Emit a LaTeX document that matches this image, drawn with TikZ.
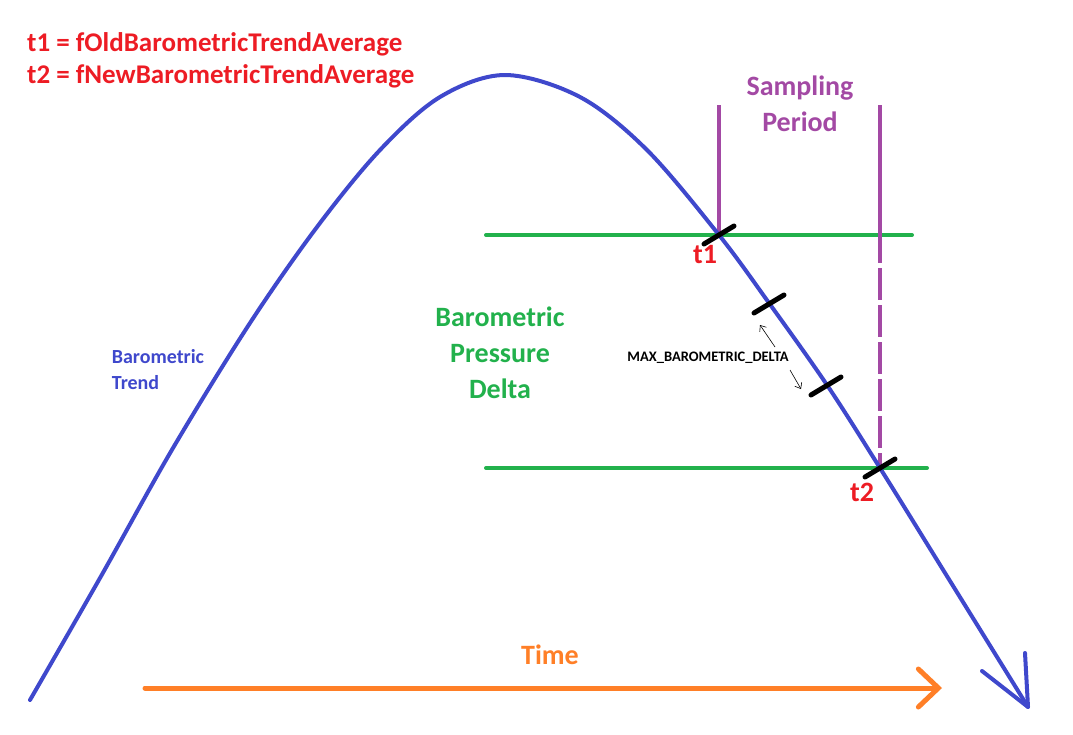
\documentclass[tikz,border=0pt]{standalone}
\usepackage{fontspec}
\setmainfont{Carlito}
\usepackage{xcolor}
\usepackage{tikz}
\usetikzlibrary{positioning, arrows.meta}

\definecolor{paintblue}{HTML}{3F48CC}
\definecolor{paintred}{HTML}{ED1C24}
\definecolor{paintgreen}{HTML}{22B14C}
\definecolor{paintpurple}{HTML}{A349A4}
\definecolor{paintorange}{HTML}{FF7F27}

\begin{document}
\begin{tikzpicture}[
        x=1pt, y=-1pt,
        trend/.style={draw=paintblue, line width=4pt, line cap=round, line join=round},
        level/.style={draw=paintgreen, line width=4pt, line cap=round},
        period/.style={draw=paintpurple, line width=4pt},
        tickmark/.style={draw=black, line width=5pt, line cap=round},
        timeline/.style={draw=paintorange, line width=5pt, line cap=round, -{Straight Barb[length=20pt, width=38pt, line cap=round]}},
        dimarrow/.style={draw=black, line width=0.6pt, -{Straight Barb[length=5pt, width=8pt]}},
        bigtext/.style={font=\bfseries\fontsize{28}{36}\selectfont, align=center, inner sep=0pt},
    ]
        \useasboundingbox (0,0) rectangle (1073,734);

        % Legend
        \node[bigtext, text=paintred, anchor=west, font=\bfseries\fontsize{27}{32}\selectfont] (def1) at (27,44) {t1 = fOldBarometricTrendAverage};
        \node[bigtext, text=paintred, anchor=west, font=\bfseries\fontsize{27}{32}\selectfont] (def2) at (27,76) {t2 = fNewBarometricTrendAverage};

        % Pressure levels
        \coordinate (t1) at (719,235);
        \coordinate (t2) at (880,468);
        \draw[level] (486,235) -- (912,235);
        \draw[level] (486,468) -- (927,468);

        % Sampling period
        \coordinate (top1) at (719,105);
        \coordinate (top2) at (880,105);
        \coordinate (dashstart) at (880,268);
        \draw[period] (top1) -- (t1);
        \draw[period] (top2) -- (880,263);
        \draw[period, dash pattern=on 32pt off 5pt] (dashstart) -- (t2);
        \node[bigtext, text=paintpurple] (period) at (800,104) {Sampling\\Period};

        % Barometric trend curve
        \coordinate (tip) at (1028,707);
        \draw[trend] plot[smooth, tension=0.55] coordinates {
            (30,700) (100,578) (173,448) (250,323) (317,227) (380,150) (440,97)
            (505,75) (580,97) (647,150) (719,235) (769,303)
            (827,385) (880,468) (950,581) (1028,707)};
        \draw[trend] (982,671) -- (tip) -- (1025,653);
        \node[bigtext, text=paintblue, align=left, font=\bfseries\fontsize{20}{26}\selectfont] (trendlbl) at (158,370) {Barometric\\Trend};

        % Ticks
        \coordinate (m1) at (769,304);
        \coordinate (m2) at (826,386);
        \foreach \p in {t1, m1, m2, t2}
            \draw[tickmark] ([shift={(-15,9)}]\p) -- ([shift={(15,-9)}]\p);

        % Delta labels
        \node[bigtext, text=paintred] (t1lbl) at (705,255) {t1};
        \node[bigtext, text=paintred] (t2lbl) at (862,492) {t2};
        \node[bigtext, text=paintgreen] (delta) at (500,353) {Barometric\\Pressure\\Delta};
        \node[font=\bfseries\fontsize{14.5}{16}\selectfont, inner sep=0pt] (maxlbl) at (708,358) {MAX\_BAROMETRIC\_DELTA};
        \coordinate (a1) at (775,347);
        \coordinate (a2) at (790,370);
        \draw[dimarrow] (a1) -- (760,325);
        \draw[dimarrow] (a2) -- (801,389);

        % Time axis
        \coordinate (tstart) at (145,688);
        \coordinate (tend) at (942,688);
        \draw[timeline] (tstart) -- (tend);
        \node[bigtext, text=paintorange] (time) at (550,655) {Time};

    \end{tikzpicture}
\end{document}
